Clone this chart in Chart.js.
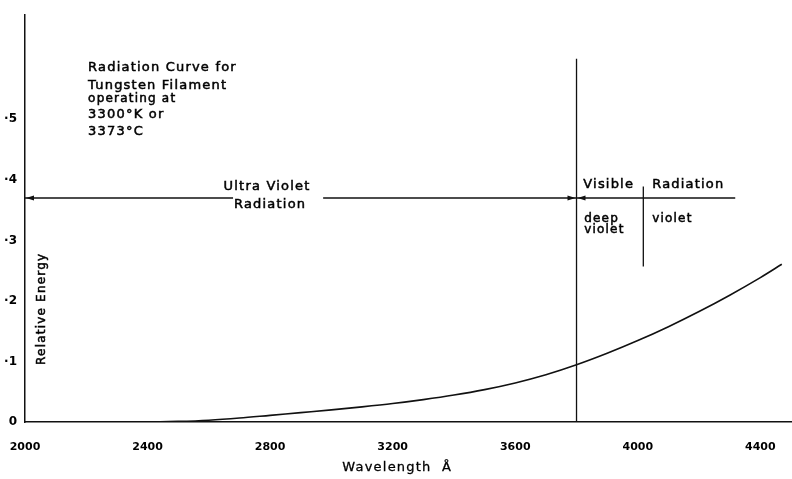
<!DOCTYPE html>
<html>
<head>
<meta charset="utf-8">
<script src="https://cdn.jsdelivr.net/npm/chart.js@4.4.0/dist/chart.umd.min.js"></script>
<style>
html, body { margin: 0; padding: 0; background: #fff; }
.ctn_chart { width: 792px; height: 479px; position: relative; }
</style>
</head>
<body>
<div class="ctn_chart"><canvas id="myChart"></canvas></div>
<script>
// ---------- data ----------
const wavelengths = [2000, 2400, 2500, 2600, 2700, 2800, 2900, 3000, 3100, 3200, 3300, 3400,
    3500, 3600, 3700, 3800, 3900, 4000, 4100, 4200, 4300, 4400, 4470];
const energy = [0, 0, 0.001, 0.003, 0.0065, 0.011, 0.0155, 0.020, 0.025, 0.0305, 0.037, 0.0445,
    0.0535, 0.0645, 0.078, 0.0945, 0.1135, 0.1345, 0.1575, 0.1825, 0.2095, 0.2385, 0.2605];

const xTicks = [2000, 2400, 2800, 3200, 3600, 4000, 4400];
const yTicks = [0, 0.1, 0.2, 0.3, 0.4, 0.5];
const yTickLabels = ['0', '·1', '·2', '·3', '·4', '·5'];

// band markers (in wavelength / energy units)
const visibleEdge = 3800;
const visibleTop = 0.6;
const bandLevel = 0.37;
const bandEnd = 4318;
const violetEdge = 4018;
const violetTop = 0.389;
const violetBottom = 0.257;
const gapStart = 2679;
const gapEnd = 2973;

const INK = '#111';
const FONT = '"DejaVu Sans", sans-serif';

// ---------- annotations drawn through the scales ----------
const notes = {
    id: 'notes',
    afterDatasetsDraw(chart) {
        const ctx = chart.ctx;
        const x = chart.scales.x;
        const y = chart.scales.y;
        const px = v => x.getPixelForValue(v);
        const py = v => y.getPixelForValue(v);

        ctx.save();
        ctx.strokeStyle = INK;
        ctx.fillStyle = INK;
        ctx.lineWidth = 1.3;

        function seg(x1, y1, x2, y2) {
            ctx.beginPath();
            ctx.moveTo(x1, y1);
            ctx.lineTo(x2, y2);
            ctx.stroke();
        }
        function arrow(xTip, yTip, dir) {
            ctx.beginPath();
            ctx.moveTo(xTip, yTip);
            ctx.lineTo(xTip - dir * 8, yTip - 2.5);
            ctx.lineTo(xTip - dir * 8, yTip + 2.5);
            ctx.closePath();
            ctx.fill();
        }

        // visible boundary
        seg(px(visibleEdge), py(0), px(visibleEdge), py(visibleTop));
        // ultra violet band line with gap for text
        const yb = py(bandLevel);
        seg(px(2000), yb, px(gapStart), yb);
        seg(px(gapEnd), yb, px(visibleEdge), yb);
        seg(px(visibleEdge), yb, px(bandEnd), yb);
        arrow(px(2000) + 1, yb, -1);
        arrow(px(visibleEdge) - 1, yb, 1);
        arrow(px(visibleEdge) + 1, yb, -1);
        // deep violet / violet divider
        seg(px(violetEdge), py(violetTop), px(violetEdge), py(violetBottom));

        // texts
        ctx.letterSpacing = '1.2px';
        ctx.textBaseline = 'middle';
        ctx.fillStyle = '#000';
        ctx.strokeStyle = '#000';
        ctx.lineWidth = 0.5;
        function txt(s, xv, yv, align, size) {
            ctx.font = (size || 13) + 'px ' + FONT;
            ctx.textAlign = align;
            ctx.fillText(s, px(xv), py(yv));
            ctx.strokeText(s, px(xv), py(yv));
        }
        txt('Radiation Curve for', 2206, 0.585, 'left');
        txt('Tungsten Filament', 2206, 0.556, 'left');
        txt('operating at', 2206, 0.533, 'left', 12);
        txt('3300°K or', 2206, 0.508, 'left');
        txt('3373°C', 2206, 0.479, 'left');

        txt('Ultra Violet', 2790, 0.389, 'center');
        txt('Radiation', 2800, 0.359, 'center');
        txt('Visible', 3822, 0.392, 'left');
        txt('Radiation', 4047, 0.392, 'left');
        txt('deep', 3825, 0.336, 'left', 12);
        txt('violet', 3825, 0.318, 'left', 12);
        txt('violet', 4047, 0.336, 'left', 12);

        // y title sits inside the plot
        ctx.save();
        ctx.translate(px(2056), py(0.187));
        ctx.rotate(-Math.PI / 2);
        ctx.font = '12px ' + FONT;
        ctx.textAlign = 'center';
        ctx.fillText('Relative Energy', 0, 0);
        ctx.strokeText('Relative Energy', 0, 0);
        ctx.restore();

        // x title, a little left of centre as in the original
        ctx.font = '13px ' + FONT;
        ctx.textAlign = 'center';
        ctx.lineWidth = 0.3;
        ctx.fillText('Wavelength  Å', px(3215), 468);
        ctx.strokeText('Wavelength  Å', px(3215), 468);

        ctx.restore();
    }
};

const data = {
    datasets: [{
        label: 'Relative Energy',
        data: wavelengths.map((w, i) => ({ x: w, y: energy[i] })),
        borderColor: INK,
        borderWidth: 1.6,
        pointRadius: 0,
        cubicInterpolationMode: 'monotone',
        fill: false
    }]
};

const config = {
    type: 'line',
    data: data,
    options: {
        responsive: true,
        maintainAspectRatio: false,
        animation: false,
        layout: { padding: { top: 12, right: 1, left: 0, bottom: 0 } },
        plugins: {
            legend: { display: false },
            tooltip: { enabled: false }
        },
        scales: {
            x: {
                type: 'linear',
                min: 2000,
                max: 4500,
                afterBuildTicks: s => { s.ticks = xTicks.map(v => ({ value: v })); },
                afterFit: s => { s.height = 57; s.paddingLeft = 0; s.paddingRight = 0; },
                grid: { display: false, drawTicks: false },
                border: { display: true, color: INK, width: 1.5 },
                ticks: {
                    padding: 19,
                    maxRotation: 0,
                    color: '#000',
                    font: { family: FONT, size: 11, weight: 'bold' },
                    callback: v => String(v)
                },
                title: { display: false }
            },
            y: {
                type: 'linear',
                min: 0,
                max: 0.672,
                afterBuildTicks: s => { s.ticks = yTicks.map(v => ({ value: v })); },
                afterFit: s => { s.width = 25; },
                grid: { display: false, drawTicks: false },
                border: { display: true, color: INK, width: 1.5 },
                ticks: {
                    padding: 8,
                    color: '#000',
                    font: { family: FONT, size: 12, weight: 'bold' },
                    callback: (v) => yTickLabels[yTicks.indexOf(v)]
                }
            }
        }
    },
    plugins: [notes]
};

const myChart = new Chart(document.getElementById('myChart'), config);
</script>
</body>
</html>
